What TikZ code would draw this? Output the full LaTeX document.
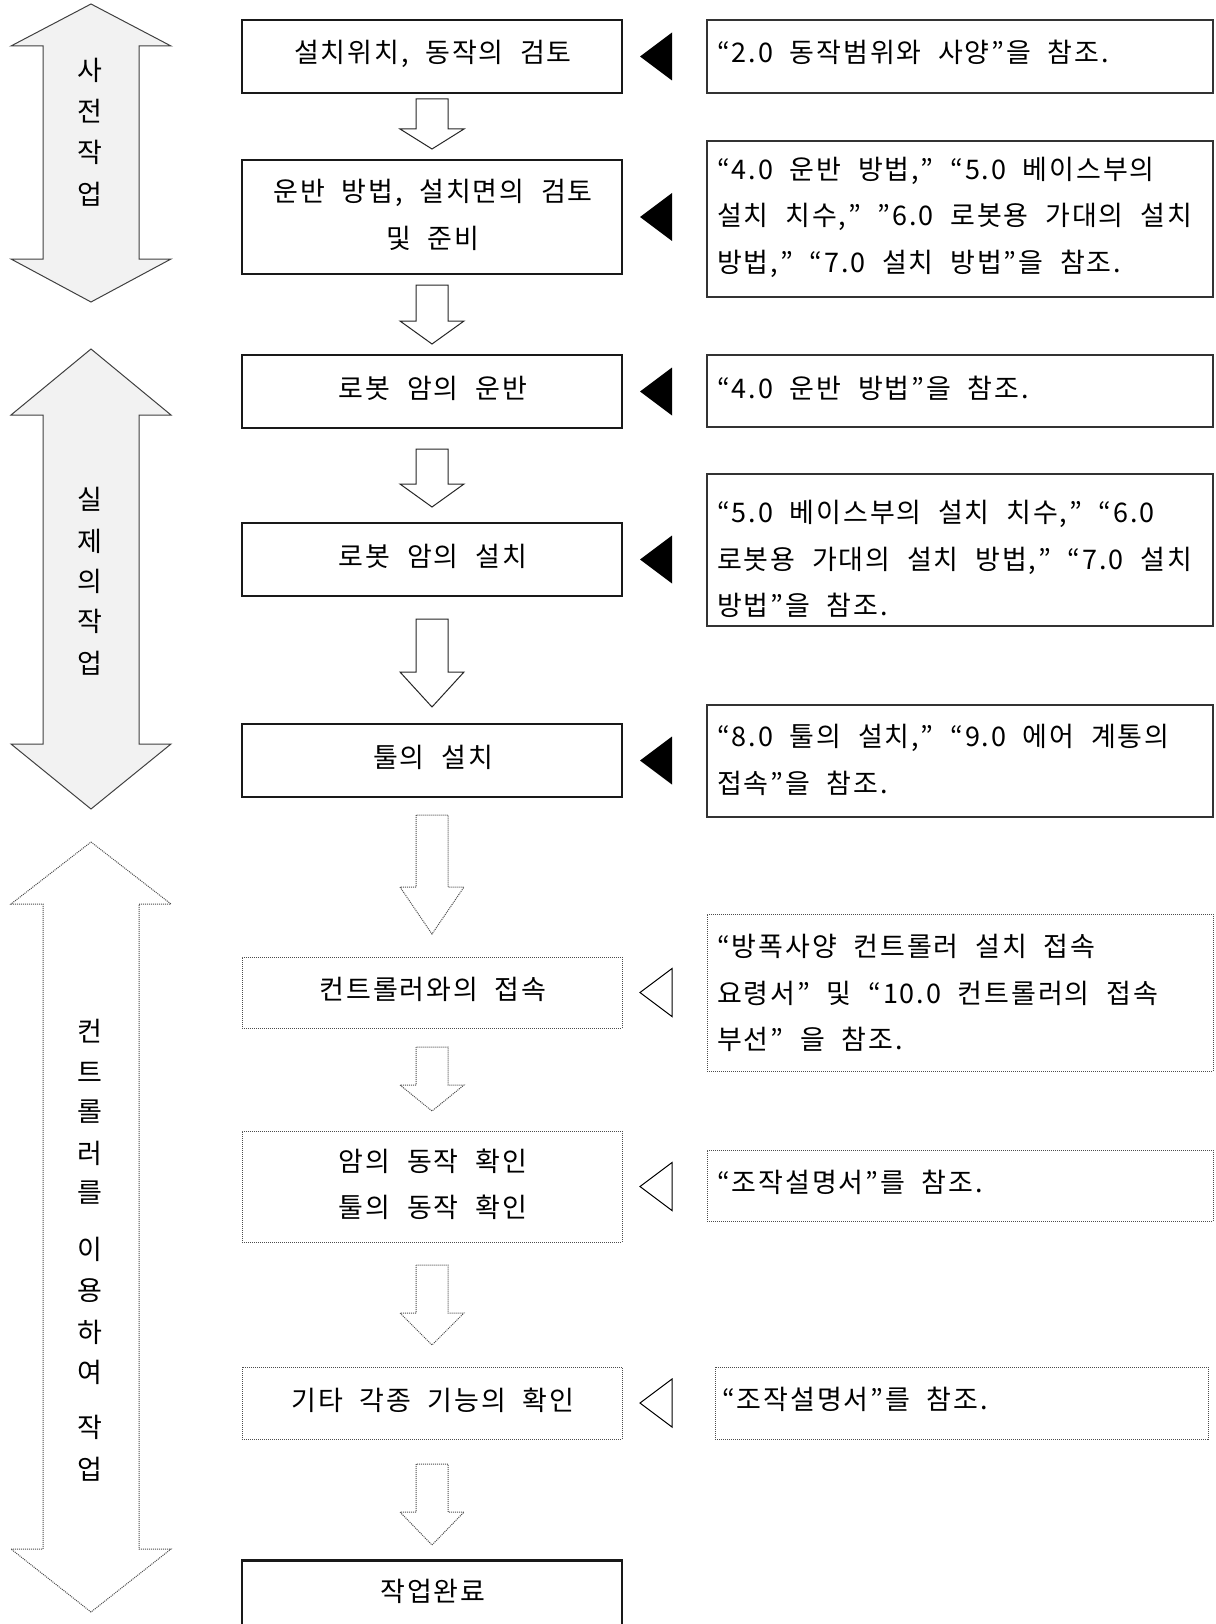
\documentclass[tikz,border=0pt]{standalone}
\usepackage{fontspec}
\setmainfont[WordSpace=2.1,Kerning=Off,LetterSpace=7]{Noto Sans CJK KR}
\usetikzlibrary{calc}
\tikzset{
  txt/.style={inner sep=0pt, font=\fontsize{27pt}{46.5pt}\selectfont},
  mtxt/.style={txt, align=center},
  mbox/.style={draw=black!90, line width=2.6pt, minimum width=380pt, inner sep=0pt},
  mboxd/.style={draw=black!70, line width=1pt, dash pattern=on 1pt off 1pt, minimum width=380pt, inner sep=0pt},
  rbox/.style={draw=black!80, line width=1.3pt, minimum width=506pt, inner sep=0pt},
  rboxd/.style={draw=black!70, line width=1pt, dash pattern=on 1pt off 1pt, minimum width=506pt, inner sep=0pt},
  rtxt/.style={txt, align=left, anchor=west},
  varrow/.style={draw=black!85, line width=1pt, fill=white},
  varrowd/.style={draw=black!70, line width=1pt, dash pattern=on 1pt off 1pt, fill=white},
  sidearrow/.style={draw=black!75, line width=1pt, fill=black!5},
  sidearrowd/.style={draw=black!70, line width=1pt, dash pattern=on 1pt off 1pt, fill=white},
  trifull/.style={fill=black},
  triopen/.style={draw=black, line width=1pt, fill=white, line join=miter},
}
% block arrow pointing down: style, top, head base, tip
\newcommand\bdown[4]{\draw[#1] (416,#2) -- (416,#3) -- (400,#3) -- (432,#4) -- (464,#3) -- (448,#3) -- (448,#2) -- cycle;}
% double-headed side arrow: style, top tip, head base, bottom base, bottom tip
\newcommand\dblarrow[5]{\draw[#1] (91,#2) -- (171,#3) -- (139,#3) -- (139,#4) -- (171,#4) -- (91,#5) -- (11,#4) -- (43,#4) -- (43,#3) -- (11,#3) -- cycle;}
% pointer triangle: style, centre y
\newcommand\ptri[2]{\path[#1] (640,#2) -- (672,#2-24) -- (672,#2+24) -- cycle;}
\begin{document}
\begin{tikzpicture}[x=1pt,y=-1pt]
\useasboundingbox (0,0) rectangle (1215,1624);
\fill[white] (0,0) rectangle (1215,1624);

% left side arrows
\dblarrow{sidearrow}{4}{46}{259}{302}
\dblarrow{sidearrow}{349}{415}{744}{809}
\dblarrow{sidearrowd}{842}{904}{1549}{1612}
\node[txt] (va1) at (90,70) {사};
\node[txt] (va2) at (90,111) {전};
\node[txt] (va3) at (90,152) {작};
\node[txt] (va4) at (90,194) {업};
\node[txt] (vb1) at (90,499) {실};
\node[txt] (vb2) at (90,541) {제};
\node[txt] (vb3) at (90,581) {의};
\node[txt] (vb4) at (90,621) {작};
\node[txt] (vb5) at (90,663) {업};
\node[txt] (vc1) at (90,1031) {컨};
\node[txt] (vc2) at (90,1072) {트};
\node[txt] (vc3) at (90,1112) {롤};
\node[txt] (vc4) at (90,1153) {러};
\node[txt] (vc5) at (90,1193) {를};
\node[txt] (vc6) at (90,1249) {이};
\node[txt] (vc7) at (90,1291) {용};
\node[txt] (vc8) at (90,1332) {하};
\node[txt] (vc9) at (90,1372) {여};
\node[txt] (vc10) at (90,1427) {작};
\node[txt] (vc11) at (90,1469) {업};

% main column boxes
\node[mbox, minimum height=73pt] (b1) at (432,56.5) {};
\node[mbox, minimum height=114pt] (b2) at (432,217) {};
\node[mbox, minimum height=73pt] (b3) at (432,391.5) {};
\node[mbox, minimum height=73pt] (b4) at (432,559.5) {};
\node[mbox, minimum height=73pt] (b5) at (432,760.5) {};
\node[mboxd, minimum height=71pt] (b6) at (432,992.5) {};
\node[mboxd, minimum height=111pt] (b7) at (432,1186.5) {};
\node[mboxd, minimum height=72pt] (b8) at (432,1403) {};
\node[mbox, minimum height=140pt, anchor=north] (b9) at (432,1559) {};

\node[mtxt] (b1t) at ([xshift=1pt,yshift=3pt]b1.center) {설치위치, 동작의 검토};
\node[mtxt] (b2t) at ([xshift=1pt,yshift=2pt]b2.center) {운반 방법, 설치면의 검토\\및 준비};
\node[mtxt] (b3t) at ([xshift=1pt,yshift=3pt]b3.center) {로봇 암의 운반};
\node[mtxt] (b4t) at ([xshift=1pt,yshift=3pt]b4.center) {로봇 암의 설치};
\node[mtxt] (b5t) at ([xshift=1pt,yshift=3pt]b5.center) {툴의 설치};
\node[mtxt] (b6t) at ([xshift=1pt,yshift=3pt]b6.center) {컨트롤러와의 접속};
\node[mtxt] (b7t) at ([xshift=1pt,yshift=2pt]b7.center) {암의 동작 확인\\툴의 동작 확인};
\node[mtxt] (b8t) at ([xshift=1pt,yshift=3pt]b8.center) {기타 각종 기능의 확인};
\node[mtxt] (b9t) at (433,1591) {작업완료};

% block arrows between boxes
\bdown{varrow}{99}{129}{149}
\bdown{varrow}{285}{321}{344}
\bdown{varrow}{449}{484}{507}
\bdown{varrow}{619}{672}{707}
\bdown{varrowd}{815}{887}{934}
\bdown{varrowd}{1047}{1085}{1111}
\bdown{varrowd}{1265}{1313}{1345}
\bdown{varrowd}{1464}{1512}{1545}

% pointer triangles
\ptri{trifull}{56.5}
\ptri{trifull}{217}
\ptri{trifull}{391.5}
\ptri{trifull}{559.5}
\ptri{trifull}{760.5}
\ptri{triopen}{992.5}
\ptri{triopen}{1186.5}
\ptri{triopen}{1403}

% reference boxes
\node[rbox, minimum height=73pt] (r1) at (960,56.5) {};
\node[rbox, minimum height=156pt] (r2) at (960,219) {};
\node[rbox, minimum height=72pt] (r3) at (960,391) {};
\node[rbox, minimum height=152pt] (r4) at (960,550) {};
\node[rbox, minimum height=112pt] (r5) at (960,761) {};
\node[rboxd, minimum height=157pt] (r6) at (960,992.5) {};
\node[rboxd, minimum height=71pt] (r7) at (960,1185.5) {};
\node[rboxd, minimum height=72pt, minimum width=493pt] (r8) at (961.5,1403) {};

\node[rtxt] (r1t) at (717,52) {“2.0 동작범위와 사양”을 참조.};
\node[rtxt] (r2t) at (717,217) {“4.0 운반 방법,” “5.0 베이스부의\\설치 치수,” ”6.0 로봇용 가대의 설치\\방법,” “7.0 설치 방법”을 참조.};
\node[rtxt] (r3t) at (717,388) {“4.0 운반 방법”을 참조.};
\node[rtxt] (r4t) at (717,559) {“5.0 베이스부의 설치 치수,” “6.0\\로봇용 가대의 설치 방법,” “7.0 설치\\방법”을 참조.};
\node[rtxt] (r5t) at (717,760) {“8.0 툴의 설치,” “9.0 에어 계통의\\접속”을 참조.};
\node[rtxt] (r6t) at (717,993) {“방폭사양 컨트롤러 설치 접속\\요령서” 및 “10.0 컨트롤러의 접속\\부선” 을 참조.};
\node[rtxt] (r7t) at (717,1182) {“조작설명서”를 참조.};
\node[rtxt] (r8t) at (722,1399) {“조작설명서”를 참조.};
\end{tikzpicture}
\end{document}
